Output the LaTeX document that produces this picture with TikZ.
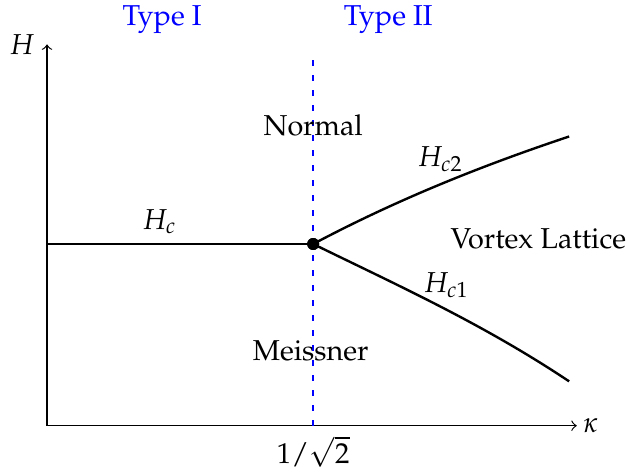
\documentclass[tikz,border=0pt]{standalone}
\usepackage[T1]{fontenc}
\usepackage{mathpazo}
\usetikzlibrary{calc,positioning}
\begin{document}
\begin{tikzpicture}[
  font=\fontsize{9.6}{11.5}\selectfont,
  axis/.style={draw=black,line width=0.4pt,->},
  boundary/.style={draw=black,line width=0.8pt},
  typeline/.style={draw=blue,dash pattern=on 2pt off 3pt,line width=0.5pt},
  phase/.style={text=black},
  typelabel/.style={text=blue},
  critical/.style={circle,fill=black,minimum size=4pt,inner sep=0pt}
]
\useasboundingbox (-0.551,-0.551) rectangle (6.81,4.99);
\coordinate (O) at (0,0);
\coordinate (Xend) at (6.21,0);
\coordinate (Yend) at (0,4.47);
\coordinate (Kbase) at (3.12,0);
\coordinate (Ktop) at (3.12,4.38);
\coordinate (Left) at (0,2.13);
\coordinate (Up) at (6.12,3.39);
\coordinate (Down) at (6.12,0.52);
\draw[axis] (O) -- (Xend);
\draw[axis] (O) -- (Yend);
\node[anchor=east,inner sep=4pt] (Hlab) at (Yend) {$H$};
\node[anchor=west,inner sep=2pt] (klab) at (Xend) {$\kappa$};
\draw[typeline] (Kbase) -- (Ktop);
\node[below=0pt of Kbase] (kc) {$1/\sqrt{2}$};
\node[critical] (P) at (3.12,2.13) {};
\draw[boundary] (Left) -- (P.center);
\draw[boundary] (P.center) .. controls (4.1,2.65) and (5.1,3.05) .. (Up);
\draw[boundary] (P.center) .. controls (4.1,1.65) and (5.1,1.2) .. (Down);
\node[critical] at (P) {};
\node[typelabel] (t1) at (1.35,4.76) {Type I};
\node[typelabel] (t2) at (4.00,4.76) {Type II};
\node[phase] (normal) at (3.12,3.52) {Normal};
\node[phase] (meissner) at (3.09,0.88) {Meissner};
\node[phase] (vortex) at (5.76,2.19) {Vortex Lattice};
\node (Hc) at (1.32,2.39) {$H_c$};
\node (Hc2) at (4.61,3.12) {$H_{c2}$};
\node (Hc1) at (4.68,1.65) {$H_{c1}$};
\end{tikzpicture}
\end{document}
